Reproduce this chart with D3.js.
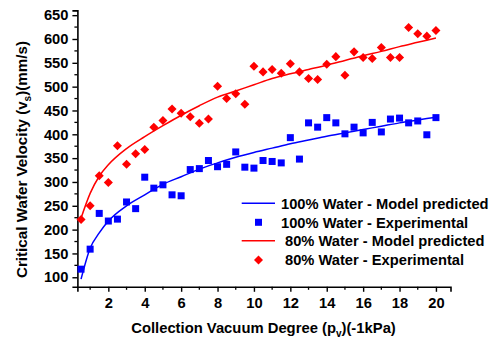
<!DOCTYPE html>
<html><head><meta charset="utf-8">
<script src="https://cdn.jsdelivr.net/npm/d3@7"></script>
<style>body{margin:0;background:#fff}svg{display:block}text{font-family:"Liberation Sans",Arial,sans-serif;font-weight:bold;fill:#000}</style>
</head><body><svg id="c" width="495" height="343"></svg>
<script>
const expX = [0.5,1,1.5,2,2.5,3,3.5,4,4.5,5,5.5,6,6.5,7,7.5,8,8.5,9,9.5,10,10.5,11,11.5,12,12.5,13,13.5,14,14.5,15,15.5,16,16.5,17,17.5,18,18.5,19,19.5,20];
const water100Exp = [117,159,234,218,222,258,244,310,287,294,273,271,326,328,345,332,337,363,331,329,345,343,340,393,348,424,415,435,424,401,415,403,425,405,432,434,424,428,399,435];
const water80Exp = [221,250,313,299,376,337,359,368,415,429,453,444,437,423,432,501,475,485,463,543,531,536,528,548,531,517,515,547,563,524,573,561,559,582,561,561,624,611,606,618];
const modelX = [0.5,1,1.5,2,3,4,5,6,7,8,9,10,11,12,13,14,15,16,17,18,19,20];
const water100Model = [96,161,193,218,250,273,295,311,327,340,352,362,371,380,388,396,403,410,417,424,430,436];
const water80Model = [224,276,312,336,370,395,418,440,460,478,491,504,517,527,536,545,555,565,574,584,593,602];
const xTicks = [2,4,6,8,10,12,14,16,18,20];
const yTicks = [100,150,200,250,300,350,400,450,500,550,600,650];
const legendLabels = ["100% Water - Model predicted","100% Water - Experimental","80% Water - Model predicted","80% Water - Experimental"];

const svg = d3.select("#c");
const x = d3.scaleLinear().domain([0.3,20.8]).range([77.4,450.5]);
const y = d3.scaleLinear().domain([80,660]).range([286.8,10.4]);
const FS = "14.7px";

// minor ticks
const xMinor = [1,3,5,7,9,11,13,15,17,19];
const yMinor = [125,175,225,275,325,375,425,475,525,575,625];
const g = svg.append("g");
g.selectAll(".xm").data(xMinor).join("line").attr("x1",d=>x(d)).attr("x2",d=>x(d)).attr("y1",y(80)).attr("y2",y(80)+3).attr("stroke","#000").attr("stroke-width",1.3);
g.selectAll(".ym").data(yMinor).join("line").attr("y1",d=>y(d)).attr("y2",d=>y(d)).attr("x1",x(0.3)).attr("x2",x(0.3)-3).attr("stroke","#000").attr("stroke-width",1.3);

const xAxis = svg.append("g").attr("transform",`translate(0,${y(80)})`)
  .call(d3.axisBottom(x).tickValues(xTicks).tickSize(5).tickPadding(6).tickFormat(d3.format("d")));
const yAxis = svg.append("g").attr("transform",`translate(${x(0.3)},0)`)
  .call(d3.axisLeft(y).tickValues(yTicks).tickSize(5).tickPadding(4).tickFormat(d3.format("d")));
[xAxis,yAxis].forEach(a=>{
  a.select(".domain").attr("stroke","#000").attr("stroke-width",1.6);
  a.selectAll(".tick line").attr("stroke","#000").attr("stroke-width",1.4);
  a.selectAll(".tick text").style("font-size",FS).style("font-family","'Liberation Sans',Arial,sans-serif").style("font-weight","bold").attr("fill","#000");
});

// model lines
const line = (arr)=>d3.line().x((d,i)=>x(modelX[i])).y(d=>y(d)).curve(d3.curveMonotoneX)(arr);
svg.append("path").attr("d",line(water100Model)).attr("fill","none").attr("stroke","#0000ff").attr("stroke-width",1.5);
svg.append("path").attr("d",line(water80Model)).attr("fill","none").attr("stroke","#ff0000").attr("stroke-width",1.5);

// experimental points
const sq = 7;
svg.append("g").selectAll("rect").data(water100Exp).join("rect")
  .attr("x",(d,i)=>x(expX[i])-sq/2).attr("y",d=>y(d)-sq/2).attr("width",sq).attr("height",sq).attr("fill","#0000ff");
const dia = d3.symbol().type(d3.symbolDiamond2).size(52);
svg.append("g").selectAll("path").data(water80Exp).join("path")
  .attr("d",dia).attr("transform",(d,i)=>`translate(${x(expX[i])},${y(d)})`).attr("fill","#ff0000");

// legend
const leg = svg.append("g");
const rows = [203.3,222.3,240.7,260];
const textX = [281,281,285,285];
const colors = ["#0000ff","#0000ff","#ff0000","#ff0000"];
legendLabels.forEach((t,i)=>{
  if(i%2===0){
    leg.append("line").attr("x1",241.7).attr("x2",275).attr("y1",rows[i]).attr("y2",rows[i]).attr("stroke",colors[i]).attr("stroke-width",1.5);
  } else if(i===1){
    leg.append("rect").attr("x",258.5-sq/2).attr("y",rows[i]-sq/2).attr("width",sq).attr("height",sq).attr("fill",colors[i]);
  } else {
    leg.append("path").attr("d",dia).attr("transform",`translate(258.5,${rows[i]})`).attr("fill",colors[i]);
  }
  leg.append("text").attr("x",textX[i]).attr("y",rows[i]+5.2).style("font-size",FS).text(t);
});

// axis titles
const xt = svg.append("text").attr("x",263.5).attr("y",333).attr("text-anchor","middle").style("font-size","14.8px");
xt.append("tspan").text("Collection Vacuum Degree (p");
xt.append("tspan").attr("dy",4).style("font-size","10px").text("v");
xt.append("tspan").attr("dy",-4).text(")(-1kPa)");
const yt = svg.append("text").attr("transform","translate(26.5,159.5) rotate(-90)").attr("text-anchor","middle").style("font-size","15.2px");
yt.append("tspan").text("Critical Wafer Velocity (v");
yt.append("tspan").attr("dy",4).style("font-size","10px").text("s");
yt.append("tspan").attr("dy",-4).text(")(mm/s)");
</script></body></html>
